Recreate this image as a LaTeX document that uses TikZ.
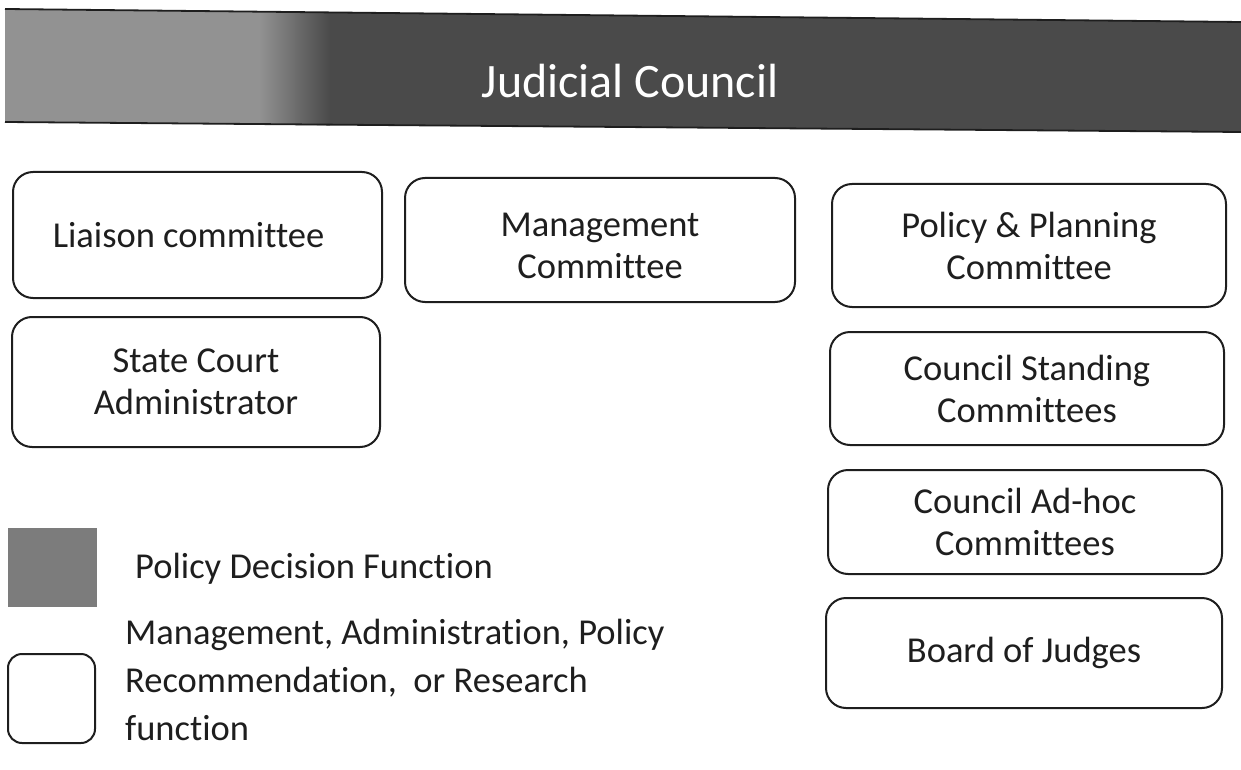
\documentclass[tikz,border=0pt]{standalone}
\usepackage{fontspec}
\setmainfont{Carlito}[Ligatures=CommonOff]
\newcommand\boxfnt{\fontsize{36.5}{42}\selectfont}
\newcommand\legfnt{\fontsize{36.5}{48}\selectfont}
\newcommand\hdrfnt{\fontsize{48}{56}\selectfont}
\definecolor{hdrdark}{HTML}{4A4A4A}
\definecolor{hdrlight}{HTML}{929292}
\definecolor{inkc}{HTML}{1E1E1E}
\definecolor{leggray}{HTML}{7C7C7C}
\begin{document}
\begin{tikzpicture}[x=1pt,y=-1pt,
  box/.style={draw=inkc, line width=2pt, rounded corners=20pt, align=center,
    font=\boxfnt, text=inkc, inner sep=0pt},
  boxlabel/.style={align=center, font=\boxfnt, text=inkc, inner sep=0pt},
  legtext/.style={font=\legfnt, text=inkc, align=left, inner sep=0pt, anchor=west}]
\useasboundingbox (0,0) rectangle (1241,770);
% header band
\fill[hdrdark] (5,9) -- (1241,22) -- (1241,132) -- (5,122) -- cycle;
\fill[hdrlight] (5,9) -- (260,11.7) -- (260,124.6) -- (5,122) -- cycle;
\shade[left color=hdrlight, right color=hdrdark] (259,11.7) -- (330,12.4) -- (330,125.4) -- (259,124.6) -- cycle;
\draw[inkc, line width=1.8pt] (5,9) -- (1241,22);
\draw[inkc, line width=1.8pt] (5,122) -- (1241,132);
\node[font=\hdrfnt, text=white, inner sep=0pt] (hdr) at (630,81) {Judicial Council};
% boxes
\node[box, minimum width=369pt, minimum height=126pt] (liaison) at (197.5,235) {Liaison committee\hspace*{18pt}};
\node[box, minimum width=390pt, minimum height=124pt] (mgmt) at (600,240) {};
\node[boxlabel] (mgmtlabel) at (600,246) {Management\\Committee};
\node[box, minimum width=394pt, minimum height=123pt] (pp) at (1029,245.5) {Policy \& Planning\\Committee};
\node[box, minimum width=368pt, minimum height=130pt] (sca) at (196,382) {State Court\\Administrator};
\node[box, minimum width=394pt, minimum height=113pt] (csc) at (1027,388.5) {Council Standing\\Committees};
\node[box, minimum width=394pt, minimum height=104pt] (ahc) at (1025,522) {Council Ad-hoc\\Committees};
\node[box, minimum width=396pt, minimum height=110pt] (boj) at (1024,653) {Board of Judges};
% legend
\node[fill=leggray, minimum width=89pt, minimum height=79pt, inner sep=0pt] (leggraybox) at (52.5,567.5) {};
\node[legtext] (legt1) at (135,569) {Policy Decision Function};
\node[draw=inkc, line width=2pt, rounded corners=14pt, minimum width=87pt, minimum height=89pt, inner sep=0pt] (legwhitebox) at (51.5,698.5) {};
\node[legtext] (legt2) at (125,680) {Management, Administration, Policy\\Recommendation,\ \ or Research\\function};
\end{tikzpicture}
\end{document}
